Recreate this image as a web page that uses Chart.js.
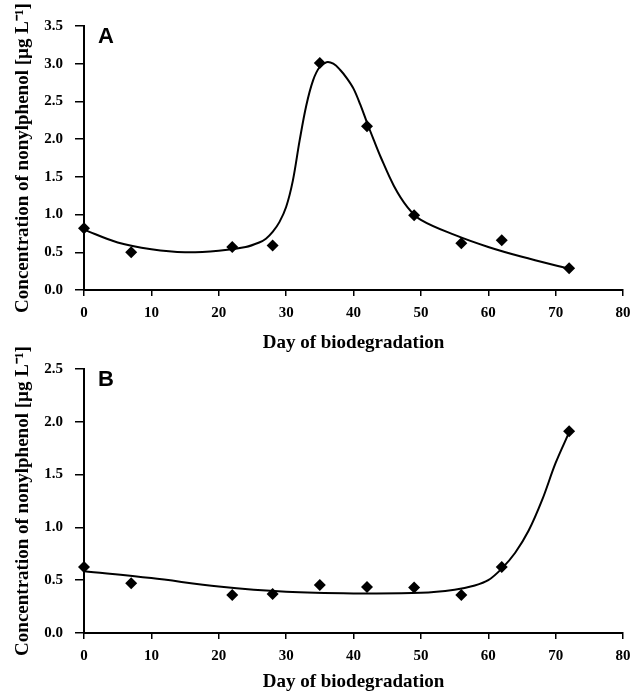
<!DOCTYPE html>
<html>
<head>
<meta charset="utf-8">
<script src="https://cdn.jsdelivr.net/npm/chart.js@4/dist/chart.umd.min.js"></script>
<style>
  body { margin: 0; background: #fff; }
  #wrap { position: relative; width: 633px; height: 693px; }
  .panel { position: absolute; left: 0; width: 633px; }
</style>
</head>
<body>
<div id="wrap">
  <div class="panel" style="top:0;height:360px"><canvas id="chartA"></canvas></div>
  <div class="panel" style="top:340px;height:353px"><canvas id="chartB"></canvas></div>
</div>
<script>
// sampling days (both panels)
const days = [0, 7, 22, 28, 35, 42, 49, 56, 62, 72];

// panel A measured values
const valuesA = [0.82, 0.50, 0.57, 0.59, 3.01, 2.17, 0.99, 0.62, 0.66, 0.29];
// panel A fitted curve
const curveAx = [0, 5, 10, 15, 20, 24, 26, 27, 28, 29, 30, 31, 32, 33, 34, 35, 36, 37, 38, 39, 40, 41, 42, 43, 44, 46, 48, 50, 55, 60, 65, 72];
const curveAy = [0.80, 0.63, 0.54, 0.50, 0.52, 0.57, 0.63, 0.68, 0.77, 0.90, 1.10, 1.45, 1.98, 2.45, 2.78, 2.96, 3.02, 3.00, 2.92, 2.81, 2.67, 2.46, 2.22, 1.99, 1.77, 1.38, 1.10, 0.93, 0.73, 0.57, 0.44, 0.28];

// panel B measured values
const valuesB = [0.625, 0.47, 0.36, 0.37, 0.455, 0.435, 0.43, 0.36, 0.625, 1.91];
// panel B fitted curve
const curveBx = [0, 10, 20, 30, 40, 50, 55, 58, 60, 62, 64, 66, 68, 70, 72];
const curveBy = [0.585, 0.52, 0.44, 0.39, 0.375, 0.38, 0.41, 0.45, 0.50, 0.61, 0.76, 0.97, 1.26, 1.61, 1.90];

const xTitle = 'Day of biodegradation';
const yTitle = 'Concentration of nonylphenol [µg L⁻¹]';

const serif = '"Liberation Serif", "Times New Roman", serif';

const panelLabel = {
    id: 'panelLabel',
    afterDraw(chart, args, opts) {
        const {ctx, chartArea} = chart;
        ctx.save();
        ctx.font = 'bold 22px "Liberation Sans", Arial, sans-serif';
        ctx.fillStyle = '#000';
        ctx.fillText(opts.text, chartArea.left + 14, chartArea.top + 17);
        ctx.restore();
    }
};

function toPts(xs, ys) {
    return xs.map((x, i) => ({x: x, y: ys[i]}));
}

// keep the plot box where the reference has it
function noPad(s) {
    s.paddingTop = 0;
    s.paddingBottom = 0;
    s.paddingLeft = 0;
    s.paddingRight = 0;
}

function makeChart(id, values, cx, cy, yMax, letter, padTop, xHeight, titlePad) {
    const ctx = document.getElementById(id).getContext('2d');
    return new Chart(ctx, {
        type: 'scatter',
        data: {
            datasets: [{
                    data: toPts(days, values),
                    pointStyle: 'rectRot',
                    pointRadius: 6,
                    pointBackgroundColor: '#000',
                    pointBorderColor: '#000',
                    pointBorderWidth: 0,
                    showLine: false,
                    clip: false
                },
                {
                    data: toPts(cx, cy),
                    showLine: true,
                    borderColor: '#000',
                    borderWidth: 2,
                    pointRadius: 0,
                    tension: 0.35,
                    fill: false,
                    clip: false
                }
            ]
        },
        options: {
            responsive: true,
            maintainAspectRatio: false,
            animation: false,
            layout: {
                padding: {left: 0, right: 10, top: padTop, bottom: 0}
            },
            plugins: {
                legend: {display: false},
                tooltip: {enabled: false},
                panelLabel: {text: letter}
            },
            scales: {
                x: {
                    type: 'linear',
                    min: 0,
                    max: 80,
                    afterFit: s => { s.height = xHeight; noPad(s); },
                    ticks: {
                        stepSize: 10,
                        color: '#000',
                        padding: 8,
                        font: {family: serif, size: 15, weight: 'bold'}
                    },
                    grid: {drawOnChartArea: false, drawTicks: true, tickLength: 6, color: '#000', lineWidth: 1.5},
                    border: {display: true, color: '#000', width: 2},
                    title: {
                        display: true,
                        text: xTitle,
                        color: '#000',
                        padding: {top: 0, bottom: titlePad},
                        font: {family: serif, size: 19, weight: 'bold'}
                    }
                },
                y: {
                    min: 0,
                    max: yMax,
                    afterFit: s => { s.width = 84; noPad(s); },
                    ticks: {
                        stepSize: 0.5,
                        color: '#000',
                        padding: 12,
                        font: {family: serif, size: 15, weight: 'bold'},
                        callback: v => v.toFixed(1)
                    },
                    grid: {drawOnChartArea: false, drawTicks: true, tickLength: 9, color: '#000', lineWidth: 1.5},
                    border: {display: true, color: '#000', width: 2},
                    title: {
                        display: true,
                        text: yTitle,
                        color: '#000',
                        padding: {top: 12, bottom: 0},
                        font: {family: serif, size: 19, weight: 'bold'}
                    }
                }
            }
        },
        plugins: [panelLabel]
    });
}

makeChart('chartA', valuesA, curveAx, curveAy, 3.5, 'A', 26, 70, 6);
makeChart('chartB', valuesB, curveBx, curveBy, 2.5, 'B', 29, 60, 0);
</script>
</body>
</html>
